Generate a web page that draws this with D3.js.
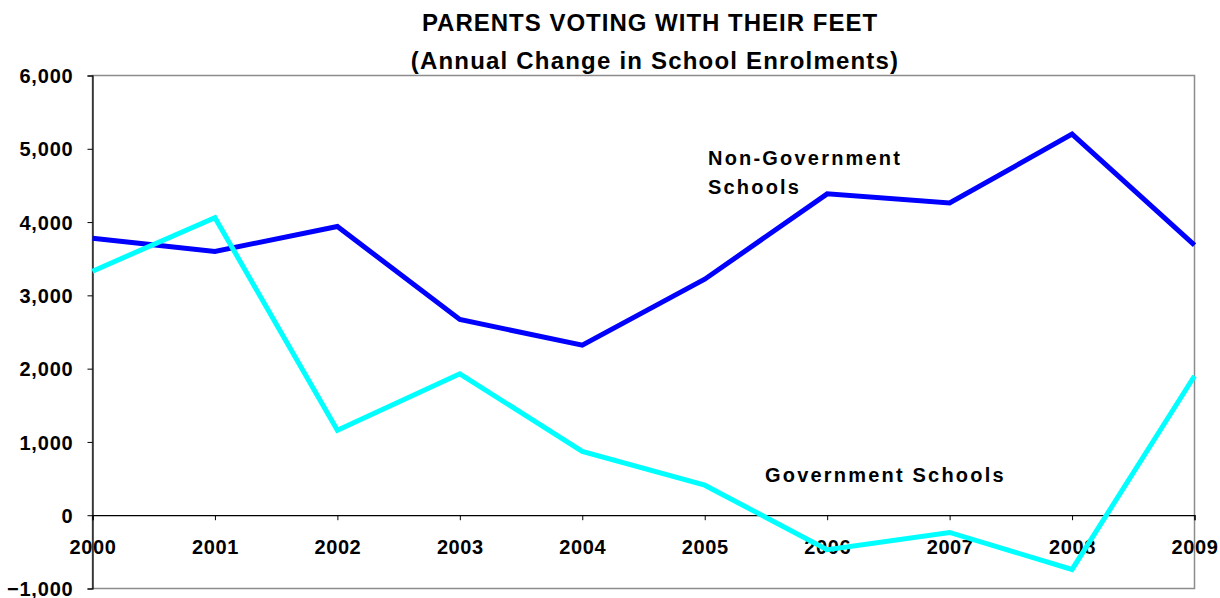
<!DOCTYPE html>
<html>
<head>
<meta charset="utf-8">
<script src="https://cdn.jsdelivr.net/npm/d3@7/dist/d3.min.js"></script>
<style>
  html, body { margin: 0; padding: 0; background: #fff; }
  svg { display: block; }
  text { font-family: "Liberation Sans", Arial, sans-serif; font-weight: bold; fill: #000; }
</style>
</head>
<body>
<svg id="chart" width="1220" height="598"></svg>
<script>
const years = [2000, 2001, 2002, 2003, 2004, 2005, 2006, 2007, 2008, 2009];
const nonGovernment = [3780, 3600, 3940, 2670, 2320, 3220, 4385, 4260, 5200, 3685];
const government = [3330, 4060, 1160, 1930, 870, 410, -470, -235, -740, 1900];
const yTicks = [-1000, 0, 1000, 2000, 3000, 4000, 5000, 6000];
const titleLines = ["PARENTS VOTING WITH THEIR FEET", "(Annual Change in School Enrolments)"];

const svg = d3.select("#chart");
const plotLeft = 92.5, plotRight = 1194.5, plotTop = 75.5, plotBottom = 588.5;

const x = d3.scaleLinear().domain([2000, 2009]).range([plotLeft, plotRight]);
const y = d3.scaleLinear().domain([-1000, 6000]).range([plotBottom, plotTop]);

// frame
svg.append("rect")
  .attr("x", plotLeft).attr("y", plotTop)
  .attr("width", plotRight - plotLeft).attr("height", plotBottom - plotTop)
  .attr("fill", "none").attr("stroke", "#8c8c8c").attr("stroke-width", 1.5);

// y axis
const yAxis = svg.append("g")
  .attr("transform", `translate(${plotLeft},0)`)
  .call(d3.axisLeft(y).tickValues(yTicks).tickSize(5).tickPadding(0)
        .tickFormat(d3.format(",")));
yAxis.select(".domain").attr("stroke", "#000").attr("stroke-width", 1.2);
yAxis.selectAll(".tick line").attr("stroke", "#000");
yAxis.selectAll(".tick text")
  .attr("x", -19).attr("dy", "0.36em")
  .style("font-size", "20px").style("letter-spacing", "0.8px")
  .style("font-family", "'Liberation Sans', Arial, sans-serif").style("font-weight", "bold");

// x axis at zero
const xAxis = svg.append("g")
  .attr("transform", `translate(0,${y(0)})`)
  .call(d3.axisBottom(x).tickValues(years).tickSize(5).tickPadding(0)
        .tickFormat(d3.format("d")));
xAxis.select(".domain").attr("stroke", "#000").attr("stroke-width", 1.2);
xAxis.selectAll(".tick line").attr("stroke", "#000");
xAxis.selectAll(".tick text")
  .attr("y", 0).attr("dy", "1.95em")
  .style("font-size", "20px").style("letter-spacing", "0.6px")
  .style("font-family", "'Liberation Sans', Arial, sans-serif").style("font-weight", "bold");

const line = d3.line().x((d, i) => x(years[i])).y(d => y(d));

svg.append("path")
  .datum(nonGovernment)
  .attr("d", line)
  .attr("fill", "none").attr("stroke", "#0000ff")
  .attr("stroke-width", 5).attr("stroke-linejoin", "miter");

svg.append("path")
  .datum(government)
  .attr("d", line)
  .attr("fill", "none").attr("stroke", "#00ffff")
  .attr("stroke-width", 5).attr("stroke-linejoin", "miter");

// title
svg.append("text").attr("x", 650).attr("y", 31).attr("text-anchor", "middle")
  .style("font-size", "24px").style("letter-spacing", "1px").text(titleLines[0]);
svg.append("text").attr("x", 655).attr("y", 69).attr("text-anchor", "middle")
  .style("font-size", "24px").style("letter-spacing", "1.2px").text(titleLines[1]);

// annotations
const ann = svg.append("g").style("font-size", "20px").style("letter-spacing", "2.2px");
ann.append("text").attr("x", 708).attr("y", 165).text("Non-Government");
ann.append("text").attr("x", 708).attr("y", 194).text("Schools");
ann.append("text").attr("x", 765).attr("y", 482).text("Government Schools");
</script>
</body>
</html>
